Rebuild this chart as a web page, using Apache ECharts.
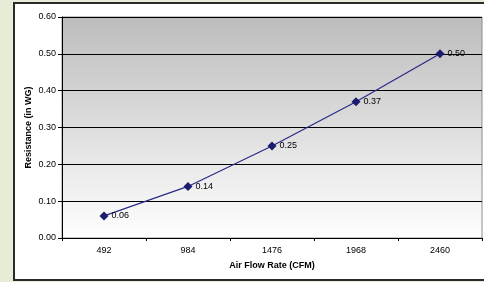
<!DOCTYPE html>
<html>
<head>
<meta charset="utf-8">
<script src="https://cdn.jsdelivr.net/npm/echarts@6/dist/echarts.min.js"></script>
<style>
  html, body { margin: 0; padding: 0; background: #e6ecd6; }
  #chart { width: 484px; height: 282px; }
</style>
</head>
<body>
<div id="chart"></div>
<script>
  // air flow rate categories and measured resistance
  var flowRates = ['492', '984', '1476', '1968', '2460'];
  var resistance = [0.06, 0.14, 0.25, 0.37, 0.50];

  var chart = echarts.init(document.getElementById('chart'));
  var font = 'Liberation Sans, Arial, sans-serif';

  var options = {
    backgroundColor: '#e6ecd6',
    animation: false,
    graphic: [{
      type: 'rect',
      z: -10,
      shape: { x: 14, y: 3, width: 500, height: 277 },
      style: { fill: '#ffffff', stroke: '#2b2b2b', lineWidth: 2 }
    }],
    grid: {
      left: 62,
      right: 2,
      top: 17,
      bottom: 44,
      show: true,
      borderColor: '#8c8c8c',
      borderWidth: 1,
      backgroundColor: new echarts.graphic.LinearGradient(0, 0, 0, 1, [
        { offset: 0, color: '#bcbcbc' },
        { offset: 1, color: '#ffffff' }
      ])
    },
    xAxis: {
      type: 'category',
      data: flowRates,
      boundaryGap: true,
      name: 'Air Flow Rate (CFM)',
      nameLocation: 'middle',
      nameGap: 23,
      nameMoveOverlap: false,
      nameTextStyle: { fontFamily: font, fontSize: 9, fontWeight: 'bold', color: '#000' },
      axisLine: { lineStyle: { color: '#000', width: 1 } },
      axisTick: { show: true, length: 3, lineStyle: { color: '#000' } },
      axisLabel: { fontFamily: font, fontSize: 9, color: '#000', margin: 8 },
      splitLine: { show: false }
    },
    yAxis: {
      type: 'value',
      min: 0,
      max: 0.6,
      interval: 0.1,
      name: 'Resistance (in WG)',
      nameLocation: 'middle',
      nameGap: 29,
      nameMoveOverlap: false,
      nameRotate: 90,
      nameTextStyle: { fontFamily: font, fontSize: 9, fontWeight: 'bold', color: '#000' },
      axisLine: { show: true, lineStyle: { color: '#000', width: 1 } },
      axisTick: { show: true, length: 4, lineStyle: { color: '#000' } },
      axisLabel: {
        fontFamily: font, fontSize: 9, color: '#000', margin: 6,
        formatter: function (v) { return v.toFixed(2); }
      },
      splitLine: { show: true, lineStyle: { color: '#000', width: 1 } }
    },
    series: [{
      type: 'line',
      data: resistance,
      symbol: 'diamond',
      symbolSize: 9,
      itemStyle: { color: '#1c1c6e' },
      lineStyle: { color: '#2a2a86', width: 1.2 },
      label: {
        show: true,
        position: 'right',
        distance: 3,
        fontFamily: font,
        fontSize: 9,
        color: '#000',
        formatter: function (p) { return p.value.toFixed(2); }
      }
    }]
  };

  chart.setOption(options);
</script>
</body>
</html>
